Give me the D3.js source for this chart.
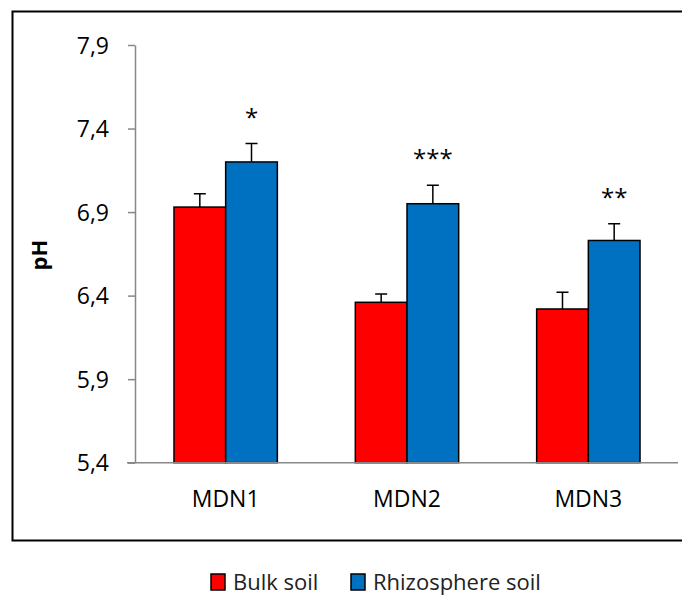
<!DOCTYPE html>
<html>
<head>
<meta charset="utf-8">
<script src="https://cdn.jsdelivr.net/npm/d3@7"></script>
<style>
  body { margin: 0; background: #fff; }
  text { font-family: 'Open Sans', sans-serif; fill: #000; }
</style>
</head>
<body>
<div id="chart"></div>
<script>
// data
const sites = ['MDN1', 'MDN2', 'MDN3'];
const seriesNames = ['Bulk soil', 'Rhizosphere soil'];
const seriesColors = ['#FF0000', '#0070C0'];
const bulkValues = [6.93, 6.36, 6.32];
const bulkErrors = [0.08, 0.05, 0.10];
const rhizoValues = [7.20, 6.95, 6.73];
const rhizoErrors = [0.11, 0.11, 0.10];
const significance = ['*', '***', '**'];
const yTicks = [5.4, 5.9, 6.4, 6.9, 7.4, 7.9];

const width = 682;
const height = 597;
const margin = { top: 45, left: 135, right: 4, bottom: 135 };

const svg = d3.select('#chart')
  .append('svg')
  .attr('width', width)
  .attr('height', height);

// outer frame
svg.append('rect')
  .attr('x', 12.5)
  .attr('y', 11.5)
  .attr('width', 690)
  .attr('height', 529)
  .attr('fill', 'none')
  .attr('stroke', '#000')
  .attr('stroke-width', 2);

const x0 = d3.scaleBand()
  .domain(sites)
  .range([margin.left, width - margin.right + 1])
  .paddingInner(0.43)
  .paddingOuter(0.215);

const x1 = d3.scaleBand()
  .domain([0, 1])
  .range([0, x0.bandwidth()]);

const y = d3.scaleLinear()
  .domain([5.4, 7.9])
  .range([height - margin.bottom + 0.7, margin.top]);

const rows = sites.map((s, i) => ({
  site: s,
  sig: significance[i],
  bars: [
    { k: 0, v: bulkValues[i], e: bulkErrors[i] },
    { k: 1, v: rhizoValues[i], e: rhizoErrors[i] }
  ]
}));

// y axis
const yAxis = svg.append('g')
  .attr('transform', `translate(${margin.left},0)`)
  .call(d3.axisLeft(y)
    .tickValues(yTicks)
    .tickSize(7)
    .tickSizeOuter(0)
    .tickPadding(19)
    .tickFormat(d => d3.format('.1f')(d).replace('.', ',')));
yAxis.select('.domain').attr('stroke', '#888').attr('stroke-width', 1.5);
yAxis.selectAll('.tick line').attr('stroke', '#888').attr('stroke-width', 1.5);
yAxis.selectAll('.tick text')
  .attr('font-size', 23)
  .attr('dy', '0.36em')
  .style('font-family', "'Open Sans', sans-serif");

// bars
const groups = svg.selectAll('.site')
  .data(rows)
  .enter()
  .append('g')
  .attr('class', 'site')
  .attr('transform', d => `translate(${x0(d.site)},0)`);

groups.selectAll('rect')
  .data(d => d.bars)
  .enter()
  .append('rect')
  .attr('x', d => x1(d.k))
  .attr('y', d => y(d.v))
  .attr('width', x1.bandwidth())
  .attr('height', d => y(5.4) - y(d.v))
  .attr('fill', d => seriesColors[d.k])
  .attr('stroke', '#000')
  .attr('stroke-width', 1.5);

// error bars (upper only)
groups.selectAll('.err')
  .data(d => d.bars)
  .enter()
  .append('path')
  .attr('class', 'err')
  .attr('fill', 'none')
  .attr('stroke', '#000')
  .attr('stroke-width', 1.5)
  .attr('d', d => {
    let cx = x1(d.k) + x1.bandwidth() / 2;
    return `M${cx},${y(d.v)}V${y(d.v + d.e)}M${cx - 6},${y(d.v + d.e)}H${cx + 6}`;
  });

// significance stars above rhizosphere bars
groups.append('text')
  .attr('x', x1(1) + x1.bandwidth() / 2)
  .attr('y', d => y(d.bars[1].v + d.bars[1].e) - 18)
  .attr('text-anchor', 'middle')
  .attr('font-size', 24)
  .text(d => d.sig);

// x axis
const xAxis = svg.append('g')
  .attr('transform', `translate(0,${y(5.4)})`)
  .call(d3.axisBottom(x0).tickSize(0).tickSizeOuter(0));
xAxis.select('.domain')
  .attr('d', `M127,0H${width - margin.right}`)
  .attr('stroke', '#888')
  .attr('stroke-width', 1.5);
xAxis.selectAll('.tick text')
  .attr('font-size', 23)
  .attr('y', 44)
  .attr('dy', null)
  .style('font-family', "'Open Sans', sans-serif");

// y title
svg.append('text')
  .attr('transform', 'translate(47,255) rotate(-90)')
  .attr('text-anchor', 'middle')
  .attr('font-size', 22)
  .attr('font-weight', 'bold')
  .text('pH');

// legend
const legendX = [211, 351];
const legend = svg.selectAll('.legend')
  .data(seriesNames)
  .enter()
  .append('g')
  .attr('class', 'legend')
  .attr('transform', (d, i) => `translate(${legendX[i]},574)`);
legend.append('rect')
  .attr('width', 14)
  .attr('height', 16)
  .attr('fill', (d, i) => seriesColors[i])
  .attr('stroke', '#000')
  .attr('stroke-width', 1.5);
legend.append('text')
  .attr('x', 22)
  .attr('y', 16)
  .attr('font-size', 22)
  .style('fill', '#222')
  .text(d => d);
</script>
</body>
</html>
